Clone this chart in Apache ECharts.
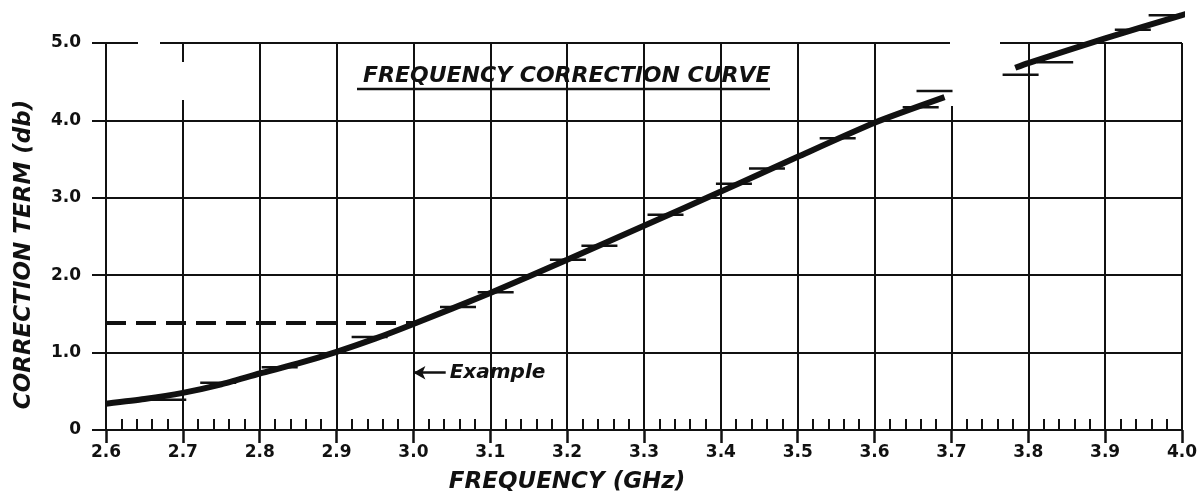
<!DOCTYPE html>
<html>
<head>
<meta charset="utf-8">
<script src="https://cdn.jsdelivr.net/npm/echarts@6/dist/echarts.min.js"></script>
<style>
html, body { margin: 0; padding: 0; background: #fff; }
#chart { width: 1200px; height: 498px; }
</style>
</head>
<body>
<div id="chart"></div>
<script>
// frequency (GHz) -> correction term (db)
let curveLow = [
  [2.6, 0.34], [2.65, 0.40], [2.7, 0.48], [2.75, 0.59], [2.8, 0.73],
  [2.85, 0.86], [2.9, 1.01], [2.95, 1.18], [3.0, 1.37], [3.1, 1.77],
  [3.2, 2.2], [3.3, 2.64], [3.4, 3.08], [3.5, 3.53], [3.6, 3.97], [3.691, 4.3]
];
let curveHigh = [[3.783, 4.68], [3.8, 4.74], [3.9, 5.06], [4.0, 5.36], [4.01, 5.39]];

// short hand-drawn dashes along the curve
let hashMarks = [
  [2.681, 0.39], [2.746, 0.61], [2.826, 0.81], [2.943, 1.2], [3.058, 1.59],
  [3.107, 1.78], [3.201, 2.2], [3.242, 2.38], [3.328, 2.78], [3.417, 3.18],
  [3.46, 3.38], [3.552, 3.77], [3.66, 4.17], [3.678, 4.38], [3.79, 4.59],
  [3.835, 4.75], [3.936, 5.17], [3.98, 5.36]
];

let exampleFreq = 3.0;
let exampleLevel = 1.38;
let exampleArrow = [3.042, 0.74];

let freqLabels = ['2.6', '2.7', '2.8', '2.9', '3.0', '3.1', '3.2', '3.3', '3.4', '3.5', '3.6', '3.7', '3.8', '3.9', '4.0'];
let dbLabels = ['0', '1.0', '2.0', '3.0', '4.0', '5.0'];

const FONT = '"DejaVu Sans", sans-serif';
const INK = '#111';

let chart = echarts.init(document.getElementById('chart'), null, { renderer: 'canvas' });

let option = {
  backgroundColor: '#fff',
  animation: false,
  title: {
    text: 'FREQUENCY CORRECTION CURVE',
    left: 358,
    top: 60,
    textStyle: { fontFamily: FONT, fontStyle: 'italic', fontWeight: 'bold', fontSize: 22, color: INK }
  },
  grid: { left: 106, right: 18, top: 43, bottom: 68, containLabel: false, outerBoundsMode: 'none' },
  xAxis: [
    {
      type: 'value',
      min: 2.6,
      max: 4.0,
      interval: 0.1,
      name: 'FREQUENCY (GHz)',
      nameLocation: 'middle',
      nameGap: 41,
      nameTextStyle: {
        fontFamily: FONT, fontStyle: 'italic', fontWeight: 'bold', fontSize: 23, color: INK,
        padding: [0, 154, 0, 0]
      },
      axisLine: { show: true, lineStyle: { color: INK, width: 2 } },
      axisTick: { show: true, length: 13, lineStyle: { color: INK, width: 2.5 } },
      axisLabel: {
        margin: 14,
        fontFamily: FONT, fontWeight: 'bold', fontSize: 17, color: INK,
        formatter: v => freqLabels[Math.round((v - 2.6) / 0.1)]
      },
      splitLine: { show: true, lineStyle: { color: INK, width: 2 } }
    },
    {
      // small upward ticks every 0.02 GHz
      type: 'value',
      min: 2.6,
      max: 4.0,
      interval: 0.02,
      position: 'bottom',
      axisLine: { show: false },
      axisTick: { show: true, inside: true, length: 11, lineStyle: { color: INK, width: 2 } },
      axisLabel: { show: false },
      splitLine: { show: false }
    }
  ],
  yAxis: {
    type: 'value',
    min: 0,
    max: 5,
    interval: 1,
    name: 'CORRECTION TERM (db)',
    nameLocation: 'middle',
    nameGap: 70,
    nameTextStyle: {
      fontFamily: FONT, fontStyle: 'italic', fontWeight: 'bold', fontSize: 23, color: INK,
      padding: [0, 36, 0, 0]
    },
    axisLine: { show: true, lineStyle: { color: INK, width: 2 } },
    axisTick: { show: true, length: 14, lineStyle: { color: INK, width: 2 } },
    axisLabel: {
      margin: 25,
      fontFamily: FONT, fontWeight: 'bold', fontSize: 17, color: INK,
      formatter: v => dbLabels[Math.round(v)]
    },
    splitLine: { show: true, lineStyle: { color: INK, width: 2 } }
  },
  graphic: [
    { type: 'line', shape: { x1: 357, y1: 89, x2: 770, y2: 89 }, style: { stroke: INK, lineWidth: 2.5 } },
    // blank patches in the original drawing
    { type: 'rect', z: 1, shape: { x: 138, y: 39, width: 22, height: 8 }, style: { fill: '#fff' } },
    { type: 'rect', z: 1, shape: { x: 179, y: 62, width: 8, height: 38 }, style: { fill: '#fff' } },
    { type: 'rect', z: 1, shape: { x: 950, y: 39, width: 50, height: 8 }, style: { fill: '#fff' } },
    { type: 'rect', z: 1, shape: { x: 950, y: 39, width: 8, height: 67 }, style: { fill: '#fff' } }
  ],
  series: [
    {
      type: 'line',
      data: curveLow,
      smooth: 0.2,
      showSymbol: false,
      clip: false,
      z: 5,
      lineStyle: { color: INK, width: 6 },
      markLine: {
        silent: true,
        symbol: 'none',
        lineStyle: { color: INK, width: 4, type: [20, 10] },
        label: { show: false },
        data: [[{ coord: [2.6, exampleLevel] }, { coord: [exampleFreq, exampleLevel] }]]
      }
    },
    {
      type: 'line',
      data: curveHigh,
      smooth: 0.2,
      showSymbol: false,
      clip: false,
      z: 5,
      lineStyle: { color: INK, width: 6 },
      markLine: {
        silent: true,
        symbol: ['none', 'arrow'],
        symbolSize: [10, 12],
        lineStyle: { color: INK, width: 2.5, type: 'solid' },
        label: {
          show: true,
          position: 'start',
          distance: 4,
          formatter: 'Example',
          fontFamily: FONT, fontStyle: 'italic', fontWeight: 'bold', fontSize: 20, color: INK
        },
        data: [[{ coord: exampleArrow }, { coord: [exampleFreq, exampleArrow[1]] }]]
      }
    },
    {
      type: 'scatter',
      data: hashMarks,
      symbol: 'rect',
      symbolSize: [36, 2.5],
      clip: false,
      z: 4,
      itemStyle: { color: INK, opacity: 1 }
    }
  ]
};

chart.setOption(option);
</script>
</body>
</html>
